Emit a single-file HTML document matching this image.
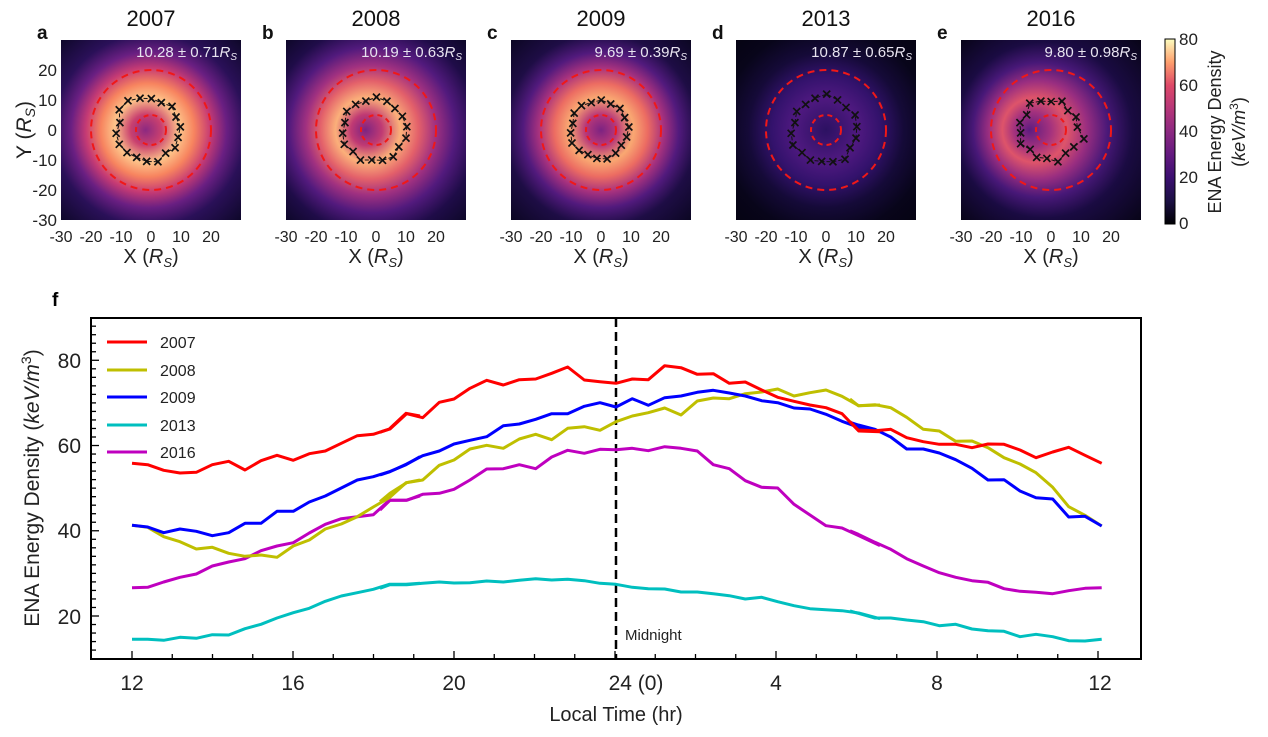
<!DOCTYPE html>
<html><head><meta charset="utf-8"><style>
html,body{margin:0;padding:0;background:#fff;}
svg{display:block;font-family:"Liberation Sans",Arial,sans-serif;}
</style></head><body>
<svg id="s" width="1268" height="737" viewBox="0 0 1268 737" xmlns="http://www.w3.org/2000/svg">
<defs>
<radialGradient id="ga" cx="0.5" cy="0.5" r="0.72" fx="0.47">
<stop offset="0" stop-color="#8c2981"/><stop offset="0.12" stop-color="#c9406f"/><stop offset="0.25" stop-color="#fdc48a"/><stop offset="0.36" stop-color="#f7845f"/><stop offset="0.48" stop-color="#c63b74"/><stop offset="0.6" stop-color="#6a1f82"/><stop offset="0.74" stop-color="#2a1058"/><stop offset="1" stop-color="#0c0726"/></radialGradient>
<radialGradient id="gb" cx="0.5" cy="0.5" r="0.72" fx="0.44">
<stop offset="0" stop-color="#7c2382"/><stop offset="0.12" stop-color="#c03a73"/><stop offset="0.25" stop-color="#fbb07a"/><stop offset="0.38" stop-color="#e3606a"/><stop offset="0.5" stop-color="#a13180"/><stop offset="0.64" stop-color="#521a7d"/><stop offset="0.8" stop-color="#1f0c48"/><stop offset="1" stop-color="#0c0726"/></radialGradient>
<radialGradient id="gc" cx="0.5" cy="0.5" r="0.72">
<stop offset="0" stop-color="#7c2382"/><stop offset="0.12" stop-color="#b73779"/><stop offset="0.25" stop-color="#f9a872"/><stop offset="0.36" stop-color="#ec6c62"/><stop offset="0.48" stop-color="#a8327e"/><stop offset="0.6" stop-color="#521a7d"/><stop offset="0.74" stop-color="#1e0d45"/><stop offset="1" stop-color="#0a0620"/></radialGradient>
<radialGradient id="gd" cx="0.5" cy="0.5" r="0.72">
<stop offset="0" stop-color="#2c1162"/><stop offset="0.25" stop-color="#4f1980"/><stop offset="0.42" stop-color="#33126c"/><stop offset="0.6" stop-color="#150a38"/><stop offset="0.8" stop-color="#08051a"/><stop offset="1" stop-color="#050312"/></radialGradient>
<radialGradient id="ge" cx="0.5" cy="0.5" r="0.72" fx="0.38">
<stop offset="0" stop-color="#5e1c80"/><stop offset="0.14" stop-color="#a3317e"/><stop offset="0.25" stop-color="#de546a"/><stop offset="0.38" stop-color="#9a2e80"/><stop offset="0.52" stop-color="#481878"/><stop offset="0.68" stop-color="#1a0b42"/><stop offset="1" stop-color="#070415"/></radialGradient>
<linearGradient id="cb" x1="0" y1="1" x2="0" y2="0">
<stop offset="0" stop-color="#000004"/><stop offset="0.125" stop-color="#1c1044"/><stop offset="0.25" stop-color="#3b0f70"/><stop offset="0.375" stop-color="#641a80"/><stop offset="0.5" stop-color="#8c2981"/><stop offset="0.625" stop-color="#b73779"/><stop offset="0.75" stop-color="#de4968"/><stop offset="0.875" stop-color="#fe9f6d"/><stop offset="1" stop-color="#fcfdbf"/></linearGradient>
</defs>
<g id="topg"></g>
<rect x="1165" y="39" width="10" height="185" fill="url(#cb)" stroke="#000" stroke-width="1"/>
<g font-size="17" fill="#222">
<text x="1179" y="45">80</text><text x="1179" y="91">60</text><text x="1179" y="137">40</text><text x="1179" y="183">20</text><text x="1179" y="229">0</text>
</g>
<text transform="translate(1221,132) rotate(-90)" text-anchor="middle" font-size="18" fill="#222">ENA Energy Density</text>
<text transform="translate(1245,132) rotate(-90)" text-anchor="middle" font-size="18" fill="#222">(<tspan font-style="italic">keV/m</tspan><tspan font-size="12" dy="-7">3</tspan><tspan dy="7">)</tspan></text>

<text x="52" y="306" font-size="19" font-weight="bold">f</text>
<rect x="91" y="318" width="1050" height="341" fill="none" stroke="#000" stroke-width="2"/>
<g id="ticks" stroke="#000" stroke-width="1.3"></g>
<g font-size="21" fill="#222" text-anchor="end">
<text x="81" y="368">80</text><text x="81" y="453">60</text><text x="81" y="538">40</text><text x="81" y="624">20</text>
</g>
<g font-size="21" fill="#222" text-anchor="middle">
<text x="132" y="690">12</text><text x="293" y="690">16</text><text x="454" y="690">20</text><text x="636" y="690">24 (0)</text><text x="776" y="690">4</text><text x="937" y="690">8</text><text x="1100" y="690">12</text>
</g>
<text x="616" y="721" text-anchor="middle" font-size="20" fill="#222">Local Time (hr)</text>
<text transform="translate(39,488) rotate(-90)" text-anchor="middle" font-size="21" fill="#222">ENA Energy Density (<tspan font-style="italic">keV/m</tspan><tspan font-size="14" dy="-8">3</tspan><tspan dy="8">)</tspan></text>
<line x1="616" y1="318" x2="616" y2="659" stroke="#000" stroke-width="2.5" stroke-dasharray="9,5"/>
<text x="625" y="640" font-size="15" fill="#222">Midnight</text>
<g id="series" fill="none" stroke-width="3" stroke-linejoin="round"></g>
<g font-size="16" fill="#222">
<line x1="107" y1="342" x2="147" y2="342" stroke="#f00" stroke-width="3"/><text x="160" y="348">2007</text>
<line x1="107" y1="370" x2="147" y2="370" stroke="#bfbf00" stroke-width="3"/><text x="160" y="376">2008</text>
<line x1="107" y1="397" x2="147" y2="397" stroke="#00f" stroke-width="3"/><text x="160" y="403">2009</text>
<line x1="107" y1="425" x2="147" y2="425" stroke="#00bfbf" stroke-width="3"/><text x="160" y="431">2013</text>
<line x1="107" y1="452" x2="147" y2="452" stroke="#bf00bf" stroke-width="3"/><text x="160" y="458">2016</text>
</g>
</svg>
<script>
(function(){
var NS="http://www.w3.org/2000/svg";
function el(p,t,a,txt){var e=document.createElementNS(NS,t);for(var k in a)e.setAttribute(k,a[k]);if(txt!=null)e.textContent=txt;p.appendChild(e);return e;}
var tg=document.getElementById('topg');
var panels=[["a","2007","ga","10.28 ± 0.71"],["b","2008","gb","10.19 ± 0.63"],["c","2009","gc","9.69 ± 0.39"],["d","2013","gd","10.87 ± 0.65"],["e","2016","ge","9.80 ± 0.98"]];
var rads=[[10.5,10,11,10,10.5,11,12,12,10,11,11,10.5,10,10.5,11,9.5,10.5,10],[11,10.5,10,10.5,11,10,10.5,11,10,10.5,11,10,11,10,10.5,11,10,11],[10,9.5,10,9.5,10,9.5,10,10,9,9.5,10,9.5,9,9.5,10,9.5,9,9.5],[11,11.5,10.5,11,12,11,10.5,11,10,11,11.5,10.5,11,10.5,11,12,10.5,11],[9.5,10,9,10.5,9.5,10,11,9,10,9.5,10.5,9,10,9.5,11,9.5,10,12]];
panels.forEach(function(p,i){
 var x0=61+225*i,y0=40,cx=x0+90,cy=130;
 el(tg,'rect',{x:x0,y:y0,width:180,height:180,fill:'url(#'+p[2]+')'});
 el(tg,'circle',{cx:cx,cy:cy,r:60,fill:'none',stroke:'#f01818','stroke-width':2,'stroke-dasharray':'7,5'});
 el(tg,'circle',{cx:cx,cy:cy,r:15,fill:'none',stroke:'#f01818','stroke-width':2,'stroke-dasharray':'5,4'});
 var pts=[];
 for(var j=0;j<18;j++){var a=Math.PI*2*j/18+0.1;var r=rads[i][j]*3;var px=cx-2+r*Math.cos(a),py=cy-r*Math.sin(a);pts.push(px.toFixed(1)+','+py.toFixed(1));
  el(tg,'path',{d:'M'+(px-3.5)+' '+(py-3.5)+'l7 7M'+(px+3.5)+' '+(py-3.5)+'l-7 7',stroke:'#111','stroke-width':1.7});}
 pts.push(pts[0]);
 el(tg,'polyline',{points:pts.join(' '),fill:'none',stroke:'#111','stroke-width':1,'stroke-dasharray':'4,2'});
 el(tg,'text',{x:cx,y:26,'text-anchor':'middle','font-size':22,fill:'#111'},p[1]);
 el(tg,'text',{x:x0-24,y:39,'font-size':19,'font-weight':'bold',fill:'#111'},p[0]);
 var t=el(tg,'text',{x:x0+176,y:57,'text-anchor':'end','font-size':15,fill:'#e8e4f0'},p[3]);
 el(t,'tspan',{'font-style':'italic'},'R');el(t,'tspan',{'font-style':'italic','font-size':10,dy:3},'S');
 [-30,-20,-10,0,10,20].forEach(function(v){el(tg,'text',{x:cx+v*3,y:242,'text-anchor':'middle','font-size':16,fill:'#222'},String(v));});
 var t2=el(tg,'text',{x:cx,y:263,'text-anchor':'middle','font-size':20,fill:'#222'},'X (');
 el(t2,'tspan',{'font-style':'italic'},'R');el(t2,'tspan',{'font-style':'italic','font-size':13,dy:4},'S');el(t2,'tspan',{dy:-4},')');
});
[20,10,0,-10,-20,-30].forEach(function(v){el(tg,'text',{x:57,y:130-v*3+6,'text-anchor':'end','font-size':17,fill:'#222'},String(v));});
var ty=el(tg,'text',{transform:'translate(31,130) rotate(-90)','text-anchor':'middle','font-size':21,fill:'#222'},'Y (');
el(ty,'tspan',{'font-style':'italic'},'R');el(ty,'tspan',{'font-style':'italic','font-size':14,dy:4},'S');el(ty,'tspan',{dy:-4},')');
var tk=document.getElementById('ticks');
for(var h=0;h<=24;h++){var x=132+h*40.25;var big=h%4==0;el(tk,'line',{x1:x,y1:659,x2:x,y2:big?651:654});}
for(var v=12;v<=88;v+=2){var y=616-(v-20)*4.262;var big=v%20==0;el(tk,'line',{x1:91,y1:y,x2:big?99:96,y2:y});}
var S={
'#f00':[[0,290,"396,520 443,524 491,541 540,549 589,547 637,524 686,514 735,540 783,512 831,496 880,511 928,491 976,483 1024,460 1072,437 1120,433 1168,417 1218,370 1260,378"],[380,320,"0,337 30,327 80,281 128,293 178,247 222,237 270,205 320,181 370,195 418,179 467,177 515,160 563,141 613,180 660,185 708,190 757,177 805,179 854,137 903,143 952,163 1000,161 1048,190 1096,186 1145,210 1193,232 1242,244 1290,255 1338,263 1386,281 1436,333 1500,335"],[850,290,"0,395 25,420 75,422 122,418 170,443 220,455 268,463 317,463 366,473 414,462 462,463 510,480 558,503 608,486 656,472 705,496 755,520"]],
'#bfbf00':[[0,290,"396,706 443,712 491,740 540,755 589,777 637,772 686,790 735,799 783,795 831,802 880,768 928,750 976,717 1024,702 1072,680 1120,651 1168,623 1218,578 1260,570"],[380,320,"0,545 30,520 80,488 128,480 178,436 222,420 270,387 320,376 370,385 418,357 467,343 515,359 563,325 613,320 660,331 708,305 757,288 805,278 854,264 903,285 952,243 1000,234 1048,236 1096,221 1145,216 1193,207 1242,228 1290,218 1338,210 1386,229 1436,257 1500,255"],[850,290,"0,327 25,347 75,344 122,353 170,382 220,418 268,423 317,454 366,453 414,473 462,503 510,522 558,548 608,592 656,650 705,676 755,708"]],
'#00f':[[0,290,"396,706 443,711 491,728 540,717 589,724 637,737 686,728 735,700 783,700 831,664 880,664 928,636 976,618 1024,594 1072,570 1120,560 1168,545 1218,524 1260,500"],[380,320,"0,465 30,455 80,432 128,407 178,393 222,372 270,361 320,350 370,317 418,312 467,298 515,281 563,281 613,259 660,248 708,261 757,236 805,256 854,233 903,228 952,217 1000,211 1048,219 1096,228 1145,242 1193,248 1242,264 1290,267 1338,283 1386,304 1436,322 1500,335"],[850,290,"0,397 25,405 75,418 122,441 170,477 220,477 268,489 317,509 366,535 414,570 462,569 510,603 558,623 608,627 656,681 705,679 755,708"]],
'#00bfbf':[[0,290,"396,1048 443,1048 491,1051 540,1042 589,1045 637,1034 686,1035 735,1016 783,1003 831,984 880,968 928,955 976,934 1024,918 1072,908 1120,898 1168,883 1218,883 1260,880"],[380,320,"0,805 30,794 80,794 128,790 178,786 222,789 270,788 320,783 370,786 418,781 467,776 515,780 563,778 613,782 660,790 708,793 757,802 805,806 854,807 903,816 952,816 1000,821 1048,827 1096,837 1145,832 1193,845 1242,857 1290,866 1338,869 1386,872 1436,879 1500,896"],[850,290,"0,963 25,970 75,984 122,984 170,990 220,995 268,1007 317,1003 366,1017 414,1022 462,1024 510,1040 558,1033 608,1040 656,1052 705,1053 755,1048"]],
'#bf00bf':[[0,290,"396,893 443,892 491,876 540,862 589,852 637,828 686,816 735,806 783,782 831,768 880,758 928,729 976,703 1024,686 1072,680 1120,674 1168,631 1218,631 1260,618"],[380,320,"0,570 30,541 80,541 128,523 178,520 222,508 270,480 320,447 370,446 418,434 467,446 515,411 563,391 613,400 660,388 708,389 757,385 805,392 854,380 903,385 952,393 1000,434 1048,446 1096,482 1145,502 1193,504 1242,553 1290,585 1338,617 1386,624 1436,647 1500,677"],[850,290,"0,722 25,733 75,757 122,778 170,806 220,828 268,848 317,862 366,872 414,877 462,896 510,904 558,907 608,911 656,902 705,895 755,893"]]
};
var sg=document.getElementById('series');
['#00bfbf','#bf00bf','#bfbf00','#00f','#f00'].forEach(function(c){
 S[c].forEach(function(seg){
  var pts=seg[2].split(' ').map(function(q){var a=q.split(',');return (seg[0]+a[0]/3).toFixed(1)+','+(seg[1]+a[1]/3).toFixed(1);}).join(' ');
  el(sg,'polyline',{points:pts,stroke:c});
 });
});
})();
</script>
</body></html>
